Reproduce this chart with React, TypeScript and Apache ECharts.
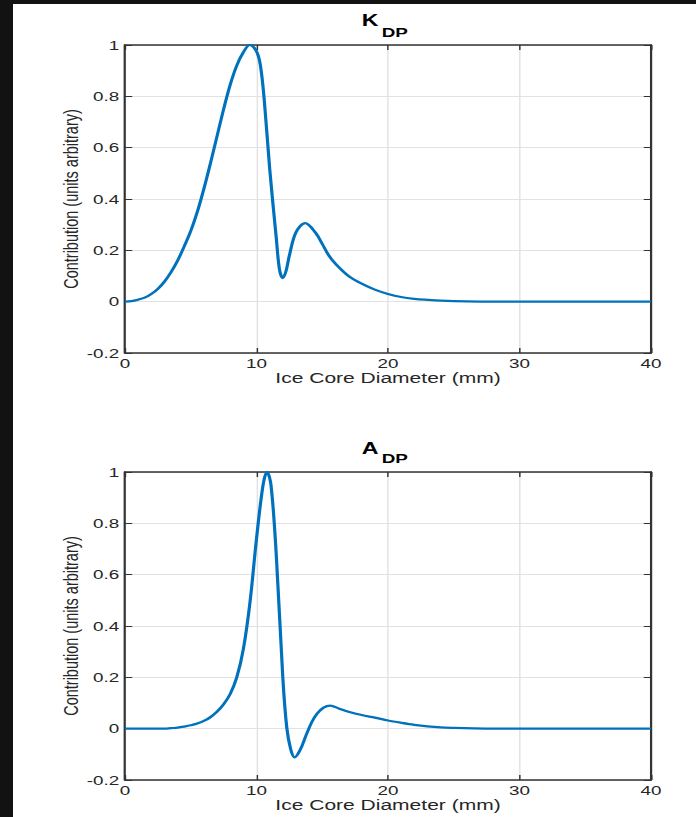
import React, { useEffect, useRef } from "react";
import * as echarts from "echarts";

// Axis ticks shared by both panels
const diameterTicks = [0, 10, 20, 30, 40];
const contributionTicks = [-0.2, 0, 0.2, 0.4, 0.6, 0.8, 1];

// K_DP contribution vs ice core diameter (mm)
const kdpDiameter = [
  0, 0.5, 1, 1.5, 2, 2.5, 3, 3.5, 4, 4.5, 5, 5.5, 6, 6.5, 7, 7.5, 8, 8.5, 9, 9.5,
  10, 10.3, 10.6, 11, 11.5, 11.75, 12, 12.25, 12.5, 13, 13.7, 14.5, 15, 15.5,
  16, 17, 18, 19, 20, 21, 22, 23, 24, 26, 28, 32, 36, 40,
];
const kdpContribution = [
  0, 0.002, 0.008, 0.016, 0.03, 0.05, 0.078, 0.115, 0.16, 0.215, 0.275, 0.35,
  0.44, 0.54, 0.645, 0.75, 0.845, 0.92, 0.972, 1.0, 0.975, 0.92, 0.78, 0.52, 0.25,
  0.125, 0.092, 0.12, 0.18, 0.27, 0.306, 0.268, 0.225, 0.18, 0.148, 0.1,
  0.07, 0.047, 0.03, 0.018, 0.011, 0.007, 0.004, 0.001, 0, 0, 0, 0,
];

// A_DP contribution vs ice core diameter (mm)
const adpDiameter = [
  0, 1, 2, 3, 3.5, 4, 4.5, 5, 5.5, 6, 6.5, 7, 7.5, 8, 8.5, 9, 9.5, 10, 10.5, 10.8,
  11.1, 11.5, 12, 12.3, 12.6, 12.9, 13.3, 13.8, 14.2, 14.6, 15.1, 15.6, 16.3, 17,
  18, 19, 20, 21, 22, 23, 24, 25, 26.5, 28, 32, 36, 40,
];
const adpContribution = [
  0, 0, 0, 0, 0.002, 0.004, 0.008, 0.013, 0.02, 0.03, 0.045, 0.066, 0.095, 0.135,
  0.2, 0.31, 0.49, 0.74, 0.95, 1.0, 0.95, 0.68, 0.2, 0.005, -0.08, -0.112, -0.085,
  -0.022, 0.025, 0.058, 0.082, 0.09, 0.078, 0.066, 0.053, 0.043, 0.032, 0.023,
  0.015, 0.009, 0.005, 0.003, 0.001, 0, 0, 0, 0,
];

// The figure is drawn on a narrower canvas and widened horizontally
const STRETCH = 1.45;
const PAGE_W = 696;
const PAGE_H = 817;
const CHART_W = PAGE_W / STRETCH;

const FONT = "'Liberation Sans', Arial, Helvetica, sans-serif";
const INK = "#262626";
const BOX = "#333333";
const GRID = "#e2e2e2";
const LINE = "#0072BD";

const PLOT_LEFT = 125 / STRETCH;
const PLOT_W = 526 / STRETCH;
const PLOT_H = 308;
const PANEL_TOPS = [45, 472];

// Title pieces: main letter and subscript, placed separately
const TITLES = [
  { main: "K", mainY: 20.5, subY: 32.3 },
  { main: "A", mainY: 448.5, subY: 458 },
];

function App() {
  const ref = useRef<HTMLDivElement>(null);

  useEffect(() => {
    if (!ref.current) return;
    const chart = echarts.init(ref.current, null, {
      renderer: "svg",
      width: CHART_W,
      height: PAGE_H,
    });

    const xMin = diameterTicks[0];
    const xMax = diameterTicks[diameterTicks.length - 1];
    const yMin = contributionTicks[0];
    const yMax = contributionTicks[contributionTicks.length - 1];

    const boxLine = { show: true, onZero: false, lineStyle: { color: BOX, width: 1.5 } };
    const innerTick = { show: true, inside: true, length: 5, lineStyle: { color: BOX, width: 1 } };

    const xAxes: any[] = [];
    const yAxes: any[] = [];
    PANEL_TOPS.forEach((_, g) => {
      xAxes.push({
        gridIndex: g,
        type: "value",
        min: xMin,
        max: xMax,
        interval: 10,
        position: "bottom",
        name: "Ice Core Diameter (mm)",
        nameLocation: "middle",
        nameGap: 15,
        nameTextStyle: { color: INK, fontFamily: FONT, fontSize: 14.5 },
        axisLine: boxLine,
        axisTick: innerTick,
        axisLabel: { color: INK, fontFamily: FONT, fontSize: 13, margin: 4 },
        splitLine: { show: true, lineStyle: { color: GRID, width: 1 } },
      });
      xAxes.push({
        gridIndex: g,
        type: "value",
        min: xMin,
        max: xMax,
        interval: 10,
        position: "top",
        axisLine: boxLine,
        axisTick: innerTick,
        axisLabel: { show: false },
        splitLine: { show: false },
      });
      yAxes.push({
        gridIndex: g,
        type: "value",
        min: yMin,
        max: yMax,
        interval: 0.2,
        position: "left",
        name: "Contribution (units arbitrary)",
        nameLocation: "middle",
        nameGap: 29.5,
        nameMoveOverlap: false,
        nameRotate: 90,
        nameTextStyle: { color: INK, fontFamily: FONT, fontSize: 14.5 },
        axisLine: boxLine,
        axisTick: innerTick,
        axisLabel: { color: INK, fontFamily: FONT, fontSize: 13, margin: 4 },
        splitLine: { show: true, lineStyle: { color: GRID, width: 1 } },
      });
      yAxes.push({
        gridIndex: g,
        type: "value",
        min: yMin,
        max: yMax,
        interval: 0.2,
        position: "right",
        axisLine: boxLine,
        axisTick: innerTick,
        axisLabel: { show: false },
        splitLine: { show: false },
      });
    });

    const titleGraphics: any[] = [];
    TITLES.forEach((t) => {
      titleGraphics.push({
        type: "text",
        x: 361.7 / STRETCH,
        y: t.mainY,
        style: {
          text: t.main,
          fill: "#000",
          font: `bold 16px ${FONT}`,
          align: "left",
          verticalAlign: "middle",
        },
      });
      titleGraphics.push({
        type: "text",
        x: 381.7 / STRETCH,
        y: t.subY,
        style: {
          text: "DP",
          fill: "#000",
          font: `bold 13px ${FONT}`,
          align: "left",
          verticalAlign: "middle",
        },
      });
    });

    const curve = (xi: number, xs: number[], ys: number[]) => ({
      type: "line",
      xAxisIndex: xi,
      yAxisIndex: xi,
      data: xs.map((d, i) => [d, ys[i]]),
      showSymbol: false,
      smooth: 0.35,
      lineStyle: { color: LINE, width: 2.2 },
      z: 5,
    });

    chart.setOption({
      animation: false,
      backgroundColor: "transparent",
      grid: PANEL_TOPS.map((top) => ({
        left: PLOT_LEFT,
        top,
        width: PLOT_W,
        height: PLOT_H,
        containLabel: false,
      })),
      xAxis: xAxes,
      yAxis: yAxes,
      graphic: titleGraphics,
      series: [
        curve(0, kdpDiameter, kdpContribution),
        curve(2, adpDiameter, adpContribution),
      ],
    });

    return () => chart.dispose();
  }, []);

  return (
    <div
      style={{
        position: "fixed",
        left: 0,
        top: 0,
        width: PAGE_W,
        height: PAGE_H,
        background: "#121212",
        overflow: "hidden",
      }}
    >
      <div
        style={{
          position: "absolute",
          left: 13,
          top: 4,
          right: 0,
          bottom: 0,
          background: "#ffffff",
        }}
      />
      <div
        ref={ref}
        style={{
          position: "absolute",
          left: 0,
          top: 0,
          width: CHART_W,
          height: PAGE_H,
          transform: `scaleX(${STRETCH})`,
          transformOrigin: "0 0",
        }}
      />
    </div>
  );
}

export default App;
